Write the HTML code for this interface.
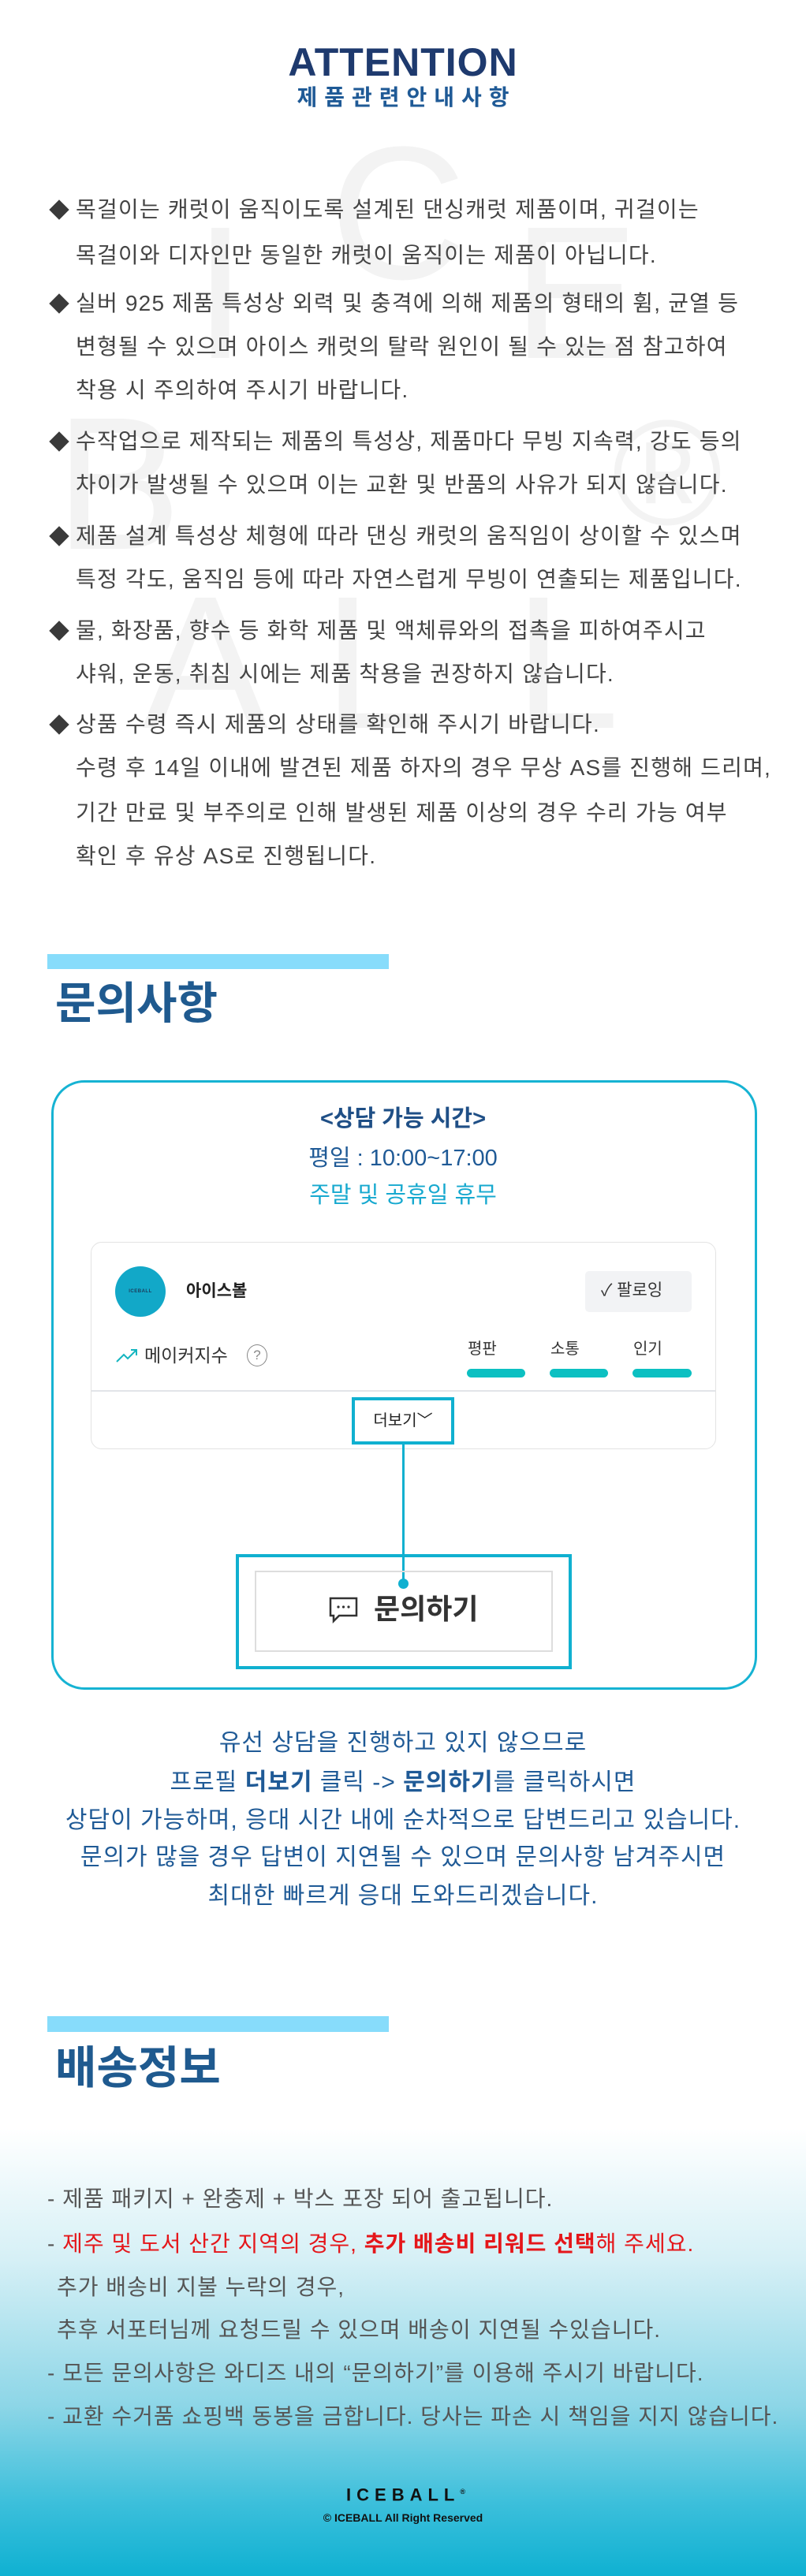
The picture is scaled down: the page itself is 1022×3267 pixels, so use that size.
<!DOCTYPE html>
<html><head><meta charset="utf-8"><style>
*{margin:0;padding:0;box-sizing:border-box}
body{width:1022px;height:3267px;position:relative;overflow:hidden;background:#fff;font-family:"Liberation Sans","Noto Sans CJK KR",sans-serif}
.a{position:absolute;white-space:nowrap}
.wm{position:absolute;font-family:"Liberation Sans",sans-serif;font-size:240px;line-height:1;color:#f3f3f3}
.ln{position:absolute;left:96px;font-size:28px;letter-spacing:1.2px;line-height:40px;height:40px;color:#444;white-space:nowrap}
.dm{position:absolute;left:66px;width:18px;height:18px;background:#3a3a3a;transform:rotate(45deg)}
.c{position:absolute;left:0;width:1022px;text-align:center;white-space:nowrap}
.p{font-size:30px;letter-spacing:1px;line-height:40px;color:#1f5a96}
.dl{position:absolute;left:60px;font-size:28px;letter-spacing:1px;line-height:40px;color:#555;white-space:nowrap}
</style></head><body>
<div style="position:absolute;left:0;top:2650px;width:1022px;height:617px;background:linear-gradient(#fff 0%,#fff 8%,#d6f0f6 35%,#8dd6e7 65%,#3cbfdb 85%,#0fb1d2 100%)"></div>

<div class="wm" style="left:246px;top:251px">I</div>
<div class="wm" style="left:418px;top:150px">C</div>
<div class="wm" style="left:650px;top:251px">E</div>
<div class="wm" style="left:70px;top:493px">B</div>
<div class="wm" style="left:776px;top:505px;font-size:190px">®</div>
<div class="wm" style="left:180px;top:720px">A</div>
<div class="wm" style="left:410px;top:720px">L</div>
<div class="wm" style="left:652px;top:720px">L</div>

<div class="c" style="top:52px;font-size:50px;line-height:54px;font-weight:bold;color:#1e3a6e;letter-spacing:1px">ATTENTION</div>
<div class="c" style="top:106px;font-size:28px;line-height:36px;font-weight:bold;color:#1f5a96;letter-spacing:9px;padding-left:9px">제품관련안내사항</div>

<div class="dm" style="top:257px"></div>
<div class="ln" style="top:246px">목걸이는 캐럿이 움직이도록 설계된 댄싱캐럿 제품이며, 귀걸이는</div>
<div class="ln" style="top:304px">목걸이와 디자인만 동일한 캐럿이 움직이는 제품이 아닙니다.</div>
<div class="dm" style="top:376px"></div>
<div class="ln" style="top:365px">실버 925 제품 특성상 외력 및 충격에 의해 제품의 형태의 휨, 균열 등</div>
<div class="ln" style="top:420px">변형될 수 있으며 아이스 캐럿의 탈락 원인이 될 수 있는 점 참고하여</div>
<div class="ln" style="top:475px">착용 시 주의하여 주시기 바랍니다.</div>
<div class="dm" style="top:551px"></div>
<div class="ln" style="top:540px">수작업으로 제작되는 제품의 특성상, 제품마다 무빙 지속력, 강도 등의</div>
<div class="ln" style="top:595px">차이가 발생될 수 있으며 이는 교환 및 반품의 사유가 되지 않습니다.</div>
<div class="dm" style="top:671px"></div>
<div class="ln" style="top:660px">제품 설계 특성상 체형에 따라 댄싱 캐럿의 움직임이 상이할 수 있스며</div>
<div class="ln" style="top:715px">특정 각도, 움직임 등에 따라 자연스럽게 무빙이 연출되는 제품입니다.</div>
<div class="dm" style="top:791px"></div>
<div class="ln" style="top:780px">물, 화장품, 향수 등 화학 제품 및 액체류와의 접촉을 피하여주시고</div>
<div class="ln" style="top:835px">샤워, 운동, 취침 시에는 제품 착용을 권장하지 않습니다.</div>
<div class="dm" style="top:910px"></div>
<div class="ln" style="top:899px">상품 수령 즉시 제품의 상태를 확인해 주시기 바랍니다.</div>
<div class="ln" style="top:954px">수령 후 14일 이내에 발견된 제품 하자의 경우 무상 AS를 진행해 드리며,</div>
<div class="ln" style="top:1011px">기간 만료 및 부주의로 인해 발생된 제품 이상의 경우 수리 가능 여부</div>
<div class="ln" style="top:1066px">확인 후 유상 AS로 진행됩니다.</div>

<div style="position:absolute;left:60px;top:1210px;width:433px;height:19px;background:#87dcfb"></div>
<div class="a" style="left:70px;top:1238px;font-size:56px;line-height:70px;font-weight:bold;color:#1f5a8f">문의사항</div>

<div style="position:absolute;left:65px;top:1370px;width:895px;height:773px;border:3px solid #16b3d3;border-radius:42px"></div>
<div class="c" style="top:1399px;font-size:29px;line-height:40px;font-weight:bold;color:#1f4f86">&lt;상담 가능 시간&gt;</div>
<div class="c" style="top:1449px;font-size:29px;line-height:40px;color:#1f5a96">평일 : 10:00~17:00</div>
<div class="c" style="top:1496px;font-size:29px;line-height:40px;color:#17a9cf">주말 및 공휴일 휴무</div>

<div style="position:absolute;left:115px;top:1575px;width:793px;height:263px;border:1.5px solid #e3e3e3;border-radius:14px"></div>
<div style="position:absolute;left:146px;top:1606px;width:64px;height:64px;border-radius:50%;background:#12a8c8;color:#1d3b5a;font-size:6px;font-weight:bold;line-height:64px;text-align:center;letter-spacing:.5px">ICEBALL</div>
<div class="a" style="left:236px;top:1624px;font-size:21px;line-height:28px;font-weight:bold;color:#222">아이스볼</div>
<div style="position:absolute;left:742px;top:1612px;width:135px;height:52px;background:#f2f3f5;border-radius:5px"></div>
<div class="a" style="left:762px;top:1623px;font-size:21px;line-height:28px;color:#333">✓ 팔로잉</div>
<svg style="position:absolute;left:146px;top:1708px" width="30" height="22"><polyline points="2,19 11,10 16,15 27,4" fill="none" stroke="#13b5c0" stroke-width="2"/><polyline points="20,4 27,4 27,11" fill="none" stroke="#13b5c0" stroke-width="2"/></svg>
<div class="a" style="left:183px;top:1704px;font-size:23px;line-height:30px;color:#333">메이커지수</div>
<div style="position:absolute;left:313px;top:1705px;width:26px;height:28px;border:1.5px solid #888;border-radius:50%;font-size:17px;line-height:25px;text-align:center;color:#888">?</div>
<div class="a" style="left:593px;top:1697px;font-size:20px;line-height:28px;color:#333">평판</div>
<div class="a" style="left:698px;top:1697px;font-size:20px;line-height:28px;color:#333">소통</div>
<div class="a" style="left:803px;top:1697px;font-size:20px;line-height:28px;color:#333">인기</div>
<div style="position:absolute;left:592px;top:1736px;width:74px;height:11px;border-radius:6px;background:#0cc0c2"></div>
<div style="position:absolute;left:697px;top:1736px;width:74px;height:11px;border-radius:6px;background:#0cc0c2"></div>
<div style="position:absolute;left:802px;top:1736px;width:75px;height:11px;border-radius:6px;background:#0cc0c2"></div>
<div style="position:absolute;left:116px;top:1763px;width:791px;height:2px;background:#e2e4e8"></div>
<div style="position:absolute;left:446px;top:1772px;width:130px;height:60px;border:4px solid #10b0d0;background:#fff"></div>
<div class="a" style="left:446px;top:1772px;width:130px;font-size:20px;line-height:60px;text-align:center;color:#222">더보기﹀</div>
<div style="position:absolute;left:510px;top:1832px;width:3px;height:176px;background:#10b0d0"></div>

<div style="position:absolute;left:299px;top:1971px;width:426px;height:146px;border:4px solid #10b0d0"></div>
<div style="position:absolute;left:323px;top:1992px;width:378px;height:103px;border:2px solid #ddd"></div>
<div style="position:absolute;left:505px;top:2002px;width:13px;height:13px;border-radius:50%;background:#10b0d0"></div>
<svg style="position:absolute;left:417px;top:2025px" width="38" height="34"><path d="M2 2 H35 V24 H13 L6 31 V24 H2 Z" fill="none" stroke="#333" stroke-width="2.5"/><circle cx="12" cy="13" r="1.6" fill="#333"/><circle cx="18.5" cy="13" r="1.6" fill="#333"/><circle cx="25" cy="13" r="1.6" fill="#333"/></svg>
<div class="a" style="left:474px;top:2019px;font-size:36px;line-height:44px;font-weight:bold;color:#333">문의하기</div>

<div class="c p" style="top:2191px">유선 상담을 진행하고 있지 않으므로</div>
<div class="c p" style="top:2241px">프로필 <b>더보기</b> 클릭 -&gt; <b>문의하기</b>를 클릭하시면</div>
<div class="c p" style="top:2289px">상담이 가능하며, 응대 시간 내에 순차적으로 답변드리고 있습니다.</div>
<div class="c p" style="top:2336px">문의가 많을 경우 답변이 지연될 수 있으며 문의사항 남겨주시면</div>
<div class="c p" style="top:2385px">최대한 빠르게 응대 도와드리겠습니다.</div>

<div style="position:absolute;left:60px;top:2557px;width:433px;height:20px;background:#87dcfb"></div>
<div class="a" style="left:70px;top:2588px;font-size:57px;line-height:70px;font-weight:bold;color:#1f5a8f">배송정보</div>

<div class="dl" style="top:2769px">- 제품 패키지 + 완충제 + 박스 포장 되어 출고됩니다.</div>
<div class="dl" style="top:2826px">- <span style="color:#e5161a">제주 및 도서 산간 지역의 경우, <b>추가 배송비 리워드 선택</b>해 주세요.</span></div>
<div class="dl" style="top:2881px;left:72px">추가 배송비 지불 누락의 경우,</div>
<div class="dl" style="top:2935px;left:72px">추후 서포터님께 요청드릴 수 있으며 배송이 지연될 수있습니다.</div>
<div class="dl" style="top:2990px">- 모든 문의사항은 와디즈 내의 “문의하기”를 이용해 주시기 바랍니다.</div>
<div class="dl" style="top:3045px">- 교환 수거품 쇼핑백 동봉을 금합니다. 당사는 파손 시 책임을 지지 않습니다.</div>

<div class="c" style="top:3146px;font-size:22px;line-height:28px;font-weight:bold;color:#111;letter-spacing:7px;padding-left:7px">ICEBALL<sup style="font-size:9px;letter-spacing:0">®</sup></div>
<div class="c" style="top:3183px;font-size:14px;line-height:20px;font-weight:bold;color:#111">© ICEBALL All Right Reserved</div>
</body></html>
